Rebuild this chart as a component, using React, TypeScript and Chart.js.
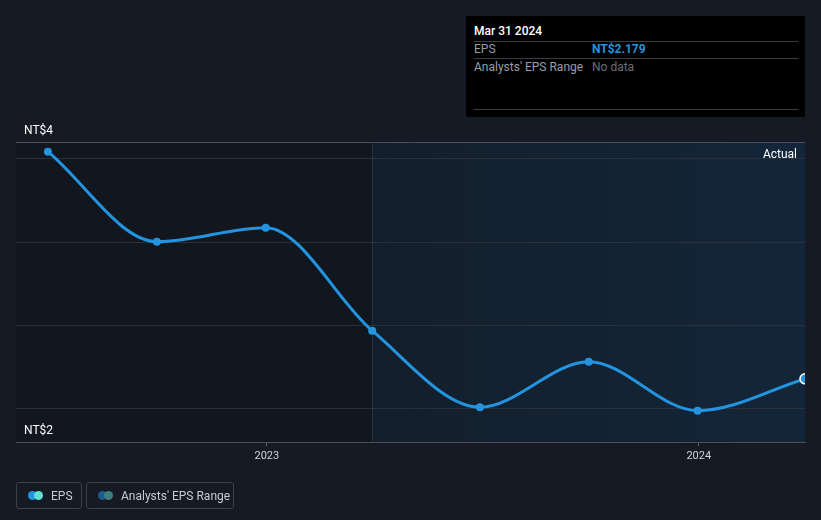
import React, { useEffect, useRef } from "react";
import { Chart, registerables } from "chart.js";

Chart.register(...registerables);

const periodEnds = [
  "2022-06-30",
  "2022-09-30",
  "2022-12-31",
  "2023-03-31",
  "2023-06-30",
  "2023-09-30",
  "2023-12-31",
  "2024-03-31",
];
const epsValues = [3.542, 3.002, 3.086, 2.468, 2.009, 2.282, 1.988, 2.179];
const yearTicks = [2023, 2024];
const yTickValues = [1.8, 2.0, 2.5, 3.0, 3.5, 3.6];
const yAxisLabels = ["NT$4", "NT$2"];
const forecastStart = "2023-03-31";
const xMinDate = "2022-06-03";

function toYear(d: string): number {
  const [y, m, day] = d.split("-").map(Number);
  const start = Date.UTC(y, 0, 1);
  const end = Date.UTC(y + 1, 0, 1);
  const t = Date.UTC(y, m - 1, day);
  return y + (t - start) / (end - start);
}

const FONT = "Roboto, 'Noto Sans', sans-serif";

export default function App() {
  const ref = useRef<HTMLCanvasElement | null>(null);

  useEffect(() => {
    if (!ref.current) return;
    const pts = periodEnds.map((d, i) => ({ x: toYear(d), y: epsValues[i] }));
    const last = pts.length - 1;
    const splitX = toYear(forecastStart);

    const bgPlugin = {
      id: "bgPlugin",
      beforeDraw(chart: any) {
        const { ctx, chartArea, scales } = chart;
        ctx.save();
        ctx.fillStyle = "#151a24";
        ctx.fillRect(0, 0, chart.width, chart.height);
        const sx = scales.x.getPixelForValue(splitX);
        ctx.fillStyle = "#12171f";
        ctx.fillRect(chartArea.left, chartArea.top, sx - chartArea.left, chartArea.bottom - chartArea.top);
        const g = ctx.createLinearGradient(sx, 0, chartArea.right, 0);
        g.addColorStop(0, "#131e2b");
        g.addColorStop(1, "#132639");
        ctx.fillStyle = g;
        ctx.fillRect(sx, chartArea.top, chartArea.right - sx, chartArea.bottom - chartArea.top);
        ctx.restore();
      },
      beforeDatasetsDraw(chart: any) {
        const { ctx, chartArea, scales } = chart;
        const sx = Math.round(scales.x.getPixelForValue(splitX)) + 0.5;
        ctx.save();
        ctx.strokeStyle = "rgba(70,100,130,0.28)";
        ctx.lineWidth = 1;
        ctx.beginPath();
        ctx.moveTo(sx, chartArea.top);
        ctx.lineTo(sx, chartArea.bottom);
        ctx.stroke();
        ctx.fillStyle = "#ffffff";
        ctx.font = `12px ${FONT}`;
        ctx.textAlign = "right";
        ctx.textBaseline = "middle";
        ctx.fillText("Actual", chartArea.right - 8, chartArea.top + 13);
        ctx.textAlign = "left";
        ctx.fillText(yAxisLabels[0], chartArea.left + 8, chartArea.top - 11);
        ctx.fillText(yAxisLabels[1], chartArea.left + 8, chartArea.bottom - 11);
        ctx.restore();
      },
    };

    const chart = new Chart(ref.current, {
      type: "line",
      data: {
        datasets: [
          {
            label: "EPS",
            data: pts,
            borderColor: "#2394df",
            backgroundColor: "#2394df",
            borderWidth: 3,
            cubicInterpolationMode: "monotone",
            pointRadius: pts.map((_, i) => (i === last ? 5 : 4)),
            pointBackgroundColor: "#2394df",
            pointBorderColor: pts.map((_, i) => (i === last ? "#ffffff" : "#2394df")),
            pointBorderWidth: pts.map((_, i) => (i === last ? 1.5 : 0)),
          },
        ],
      },
      options: {
        animation: false,
        responsive: false,
        maintainAspectRatio: false,
        layout: { padding: { left: 16, right: 16, top: 142, bottom: 0 } },
        plugins: { legend: { display: false }, tooltip: { enabled: false } },
        scales: {
          x: {
            type: "linear",
            min: toYear(xMinDate),
            max: toYear(periodEnds[last]),
            afterBuildTicks(scale: any) {
              scale.ticks = yearTicks.map((v) => ({ value: v }));
            },
            afterFit(scale: any) {
              scale.height = 78;
            },
            ticks: {
              color: "#d0d3d8",
              font: { family: FONT, size: 11 },
              padding: 4,
              maxRotation: 0,
              callback: (v: any) => String(v),
            },
            grid: {
              drawOnChartArea: false,
              drawTicks: true,
              tickLength: 4,
              color: "#5a5f68",
            },
            border: { display: true, color: "#4a4f58", width: 1 },
          },
          y: {
            type: "linear",
            min: 1.8,
            max: 3.6,
            afterBuildTicks(scale: any) {
              scale.ticks = yTickValues.map((v) => ({ value: v }));
            },
            afterFit(scale: any) {
              scale.width = 0;
            },
            ticks: { display: false },
            grid: {
              drawTicks: false,
              color: (c: any) =>
                c.tick && (c.tick.value === 3.6 || c.tick.value === 1.8) ? "#4a4f58" : "#2a303a",
            },
            border: { display: false },
          },
        },
      },
      plugins: [bgPlugin],
    } as any);
    return () => chart.destroy();
  }, []);

  const legendBox: React.CSSProperties = {
    position: "absolute",
    top: 482,
    height: 27,
    boxSizing: "border-box",
    border: "1px solid #3b404a",
    borderRadius: 3,
    display: "flex",
    alignItems: "center",
    color: "#c8cbd0",
    fontSize: 12,
    fontFamily: FONT,
  };
  const dot = (color: string, left: number): React.CSSProperties => ({
    position: "absolute",
    left,
    top: 8,
    width: 9,
    height: 9,
    borderRadius: "50%",
    background: color,
  });
  const row: React.CSSProperties = {
    position: "absolute",
    left: 8,
    right: 7,
    fontSize: 12,
    fontFamily: FONT,
  };

  return (
    <div style={{ position: "fixed", left: 0, top: 0, width: 821, height: 520, background: "#151a24", overflow: "hidden" }}>
      <canvas ref={ref} width={821} height={520} style={{ position: "absolute", left: 0, top: 0, width: 821, height: 520 }} />
      <div style={{ position: "absolute", left: 466, top: 16, width: 339, height: 101, background: "#000000" }}>
        <div style={{ ...row, top: 8, color: "#ffffff", fontWeight: 500 }}>Mar 31 2024</div>
        <div style={{ position: "absolute", left: 8, right: 7, top: 25, height: 1, background: "#3a3d42" }} />
        <div style={{ ...row, top: 26, color: "#9a9ea5" }}>EPS</div>
        <div style={{ ...row, left: 126, top: 26, color: "#2394df", fontWeight: 700 }}>NT$2.179</div>
        <div style={{ position: "absolute", left: 8, right: 7, top: 42, height: 1, background: "#3a3d42" }} />
        <div style={{ ...row, top: 44, color: "#9a9ea5" }}>Analysts' EPS Range</div>
        <div style={{ ...row, left: 126, top: 44, color: "#6a6e75" }}>No data</div>
        <div style={{ position: "absolute", left: 8, right: 7, top: 93, height: 1, background: "#3a3d42" }} />
      </div>
      <div style={{ ...legendBox, left: 16, width: 66 }}>
        <div style={dot("#2394df", 11)} />
        <div style={dot("#5fe0d2", 17)} />
        <span style={{ position: "absolute", left: 34, top: 6 }}>EPS</span>
      </div>
      <div style={{ ...legendBox, left: 86, width: 148 }}>
        <div style={dot("#1e5a8a", 11)} />
        <div style={dot("#3c7f7e", 17)} />
        <span style={{ position: "absolute", left: 34, top: 6 }}>Analysts' EPS Range</span>
      </div>
    </div>
  );
}
